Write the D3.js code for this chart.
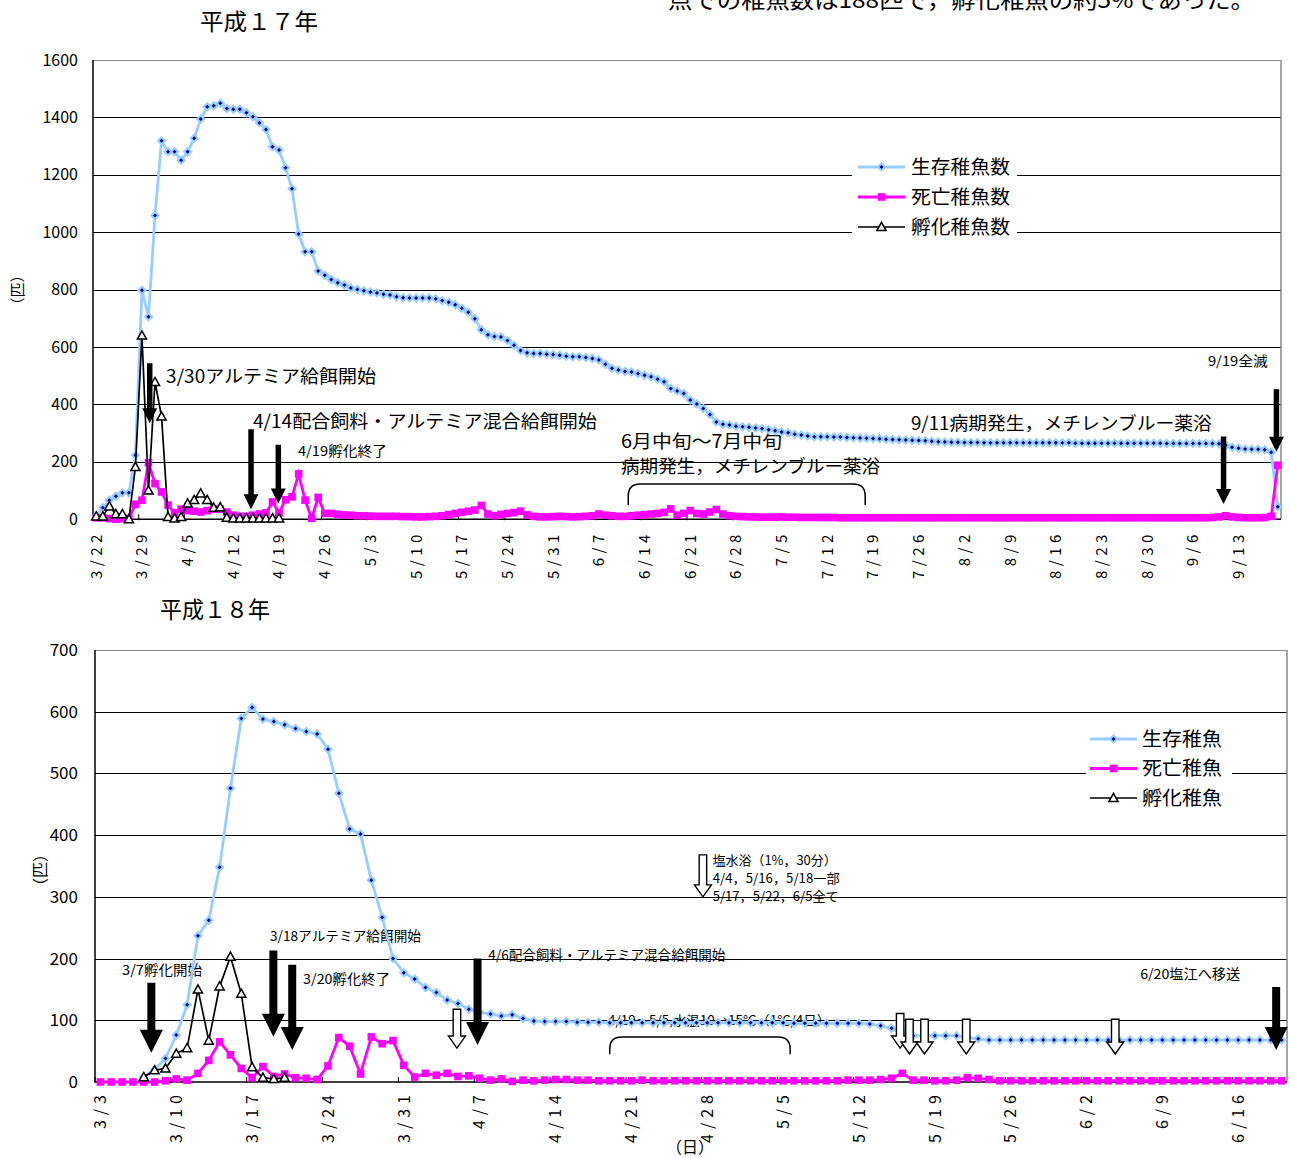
<!DOCTYPE html>
<html><head><meta charset="utf-8">
<script src="https://cdn.jsdelivr.net/npm/d3@7"></script>
<style>
body{margin:0;background:#fff;}
text{font-family:"Noto Sans CJK JP","Liberation Sans",sans-serif;}
</style></head><body>
<svg id="c" width="1290" height="1158"></svg>
<script>
// ---------------- DATA ----------------
const topStart = new Date(2005, 2, 22), topDayCount = 182;
const botStart = new Date(2006, 2, 3), botDayCount = 110;

const topTickLabels = ["3/22","3/29","4/5","4/12","4/19","4/26","5/3","5/10","5/17","5/24","5/31","6/7","6/14","6/21","6/28","7/5","7/12","7/19","7/26","8/2","8/9","8/16","8/23","8/30","9/6","9/13"];
const botTickLabels = ["3/3","3/10","3/17","3/24","3/31","4/7","4/14","4/21","4/28","5/5","5/12","5/19","5/26","6/2","6/9","6/16"];
const topYTicks = [0,200,400,600,800,1000,1200,1400,1600];
const botYTicks = [0,100,200,300,400,500,600,700];

const topSurvive = [
 12,40,66,80,92,92,223,798,705,1058,
 1319,1280,1280,1251,1280,1327,1394,1437,1441,1449,
 1431,1428,1428,1416,1402,1381,1358,1298,1286,1225,
 1151,994,932,932,865,850,835,824,816,806,
 800,796,792,788,784,781,775,772,771,771,
 771,771,768,762,756,747,735,721,698,660,
 643,637,635,623,606,588,580,577,577,575,
 574,571,568,566,566,563,560,555,540,526,
 520,515,513,508,502,496,488,479,455,447,
 438,415,401,386,365,339,331,328,324,322,
 320,318,316,312,308,304,301,296,293,290,
 287,287,287,286,286,285,284,283,282,281,
 280,279,278,277,276,275,274,273,272,270,
 269,268,268,267,267,267,266,266,266,266,
 266,266,266,266,266,266,266,266,266,266,
 265,265,265,265,265,265,265,265,265,265,
 265,265,265,265,264,264,264,264,264,264,
 264,264,263,258,251,247,245,244,244,242,
 233,43];
const topDead = [
 5,5,2,0,2,3,52,66,197,124,
 95,49,22,35,30,28,25,30,35,35,
 25,14,10,10,14,18,22,60,22,68,
 78,158,66,3,76,20,20,17,15,14,
 12,12,11,10,10,10,10,9,9,8,
 8,9,10,12,16,20,24,28,32,48,
 18,12,17,20,23,28,15,10,8,8,
 9,10,9,8,9,10,12,18,14,12,
 10,10,12,14,16,18,20,24,36,14,
 20,30,20,18,25,34,18,12,10,9,
 8,8,7,7,7,8,7,7,6,6,
 6,6,6,6,5,5,5,5,5,5,
 5,5,5,5,5,5,5,5,5,5,
 5,5,5,5,5,5,5,5,5,5,
 5,5,5,5,5,5,5,5,5,5,
 5,5,5,5,5,5,5,5,5,5,
 5,5,5,5,5,5,5,5,5,5,
 5,6,8,12,8,6,5,5,5,6,
 10,188];
const topHatch = [10,10,45,18,18,0,182,640,100,478,358,8,3,8,55,67,90,67,40,42,5,3,3,3,3,3,3,3,3];

const botSurvive = [
 null,null,null,null,8,20,38,76,125,237,
 262,348,476,589,607,588,584,579,573,568,
 564,539,468,410,402,327,267,200,177,167,
 153,145,133,127,118,113,110,107,109,103,
 99,98,98,98,97,97,97,96,96,96,
 96,96,96,96,96,96,96,96,96,96,
 96,96,96,96,95,95,95,95,95,95,
 95,94,91,87,80,75,75,75,75,75,
 72,70,68,68,68,68,68,68,68,68,
 68,68,68,68,68,68,68,68,68,68,
 68,68,68,68,68,68,68,68,68,68];
const botDead = [
 0,0,0,0,0,0,2,5,3,14,
 35,65,44,22,7,25,9,13,7,6,
 4,26,72,58,13,73,62,67,27,8,
 14,11,14,9,10,6,3,5,1,3,
 2,3,4,4,3,3,2,2,2,2,
 3,2,2,2,2,2,2,2,2,2,
 2,2,2,2,2,2,2,2,2,3,
 3,3,4,6,14,3,3,2,2,3,
 7,6,4,2,2,2,2,2,2,2,
 2,2,2,2,2,2,2,2,2,2,
 2,2,2,2,2,2,2,2,2,2];
const botHatch = [null,null,null,null,8,19,22,46,55,150,67,155,203,143,24,7,5,7];

const topLegend = ["生存稚魚数","死亡稚魚数","孵化稚魚数"];
const botLegend = ["生存稚魚","死亡稚魚","孵化稚魚"];

// annotations: i = category index (fractional), v = value
const topNotes = [
 {t:"3/30アルテミア給餌開始", i:10.7, v:496, w:210, fs:18},
 {t:"4/14配合飼料・アルテミア混合給餌開始", i:24.0, v:339, w:344, fs:18},
 {t:"4/19孵化終了", i:30.9, v:238, w:89, fs:13.5},
 {t:"6月中旬～7月中旬", i:80.4, v:269, w:161, fs:18},
 {t:"病期発生，メチレンブルー薬浴", i:80.4, v:182, w:259, fs:18},
 {t:"9/11病期発生，メチレンブルー薬浴", i:124.8, v:332, w:301, fs:18},
 {t:"9/19全滅", i:170.3, v:551, w:60, fs:13.5}
];
const topArrows = [
 {i:8.19, v1:543, v2:334}, {i:23.71, v1:313, v2:34.5}, {i:27.89, v1:259, v2:55},
 {i:172.7, v1:288, v2:53}, {i:180.8, v1:453, v2:235}
];
const topBraces = [{i1:81.5, i2:117.8, v1:123, v2:49.6}];

const botNotes = [
 {t:"3/7孵化開始", i:2.0, v:181.5, w:80, fs:13.5},
 {t:"3/18アルテミア給餌開始", i:15.65, v:236.6, w:151, fs:13.5},
 {t:"3/20孵化終了", i:18.7, v:166.9, w:87, fs:13.5},
 {t:"4/6配合飼料・アルテミア混合給餌開始", i:35.8, v:205.8, w:237, fs:13.5},
 {t:"塩水浴（1%，30分）", i:56.5, v:359.7, w:124, fs:13},
 {t:"4/4，5/16，5/18一部", i:56.5, v:330.5, w:127, fs:13},
 {t:"5/17，5/22，6/5全て", i:56.5, v:301.4, w:126, fs:13},
 {t:"4/19～5/5,水温10→15℃（1℃/4日）", i:46.85, v:100.5, w:222, fs:13},
 {t:"6/20塩江へ移送", i:95.95, v:175, w:100, fs:13.5}
];
const botArrows = [
 {i:4.7, v1:161, v2:47.5}, {i:15.96, v1:213, v2:73.4}, {i:17.7, v1:190, v2:52},
 {i:34.8, v1:200, v2:60}, {i:108.5, v1:154, v2:52}
];
const botHollow = [
 {i:32.9, v1:118, v2:55}, {i:55.6, v1:368, v2:300}, {i:73.8, v1:111, v2:55},
 {i:74.66, v1:101.6, v2:45.4}, {i:76.05, v1:101.6, v2:45.4}, {i:79.9, v1:101.6, v2:45.4},
 {i:93.65, v1:101.6, v2:45.4}
];
const botBraces = [{i1:47.0, i2:63.65, v1:73, v2:45}];

// ---------------- DRAW ----------------
const fmt = d => (d.getMonth()+1) + "/" + d.getDate();
const topCats = d3.range(topDayCount).map(i => fmt(d3.timeDay.offset(topStart, i)));
const botCats = d3.range(botDayCount).map(i => fmt(d3.timeDay.offset(botStart, i)));

const svg = d3.select("#c");
svg.append("rect").attr("width",1290).attr("height",1158).attr("fill","#fff");

const BLUE = "#99CCFF", NAVY = "#000080", PINK = "#FF00FF";
const NUMFONT = "'Liberation Sans', Arial, sans-serif";
const DOUT = "M0,-5L5,0L0,5L-5,0Z", DIN = "M0,-2L2,0L0,2L-2,0Z", TRI = "M0,-4.6L4.6,3.6L-4.6,3.6Z";

function drawChart(o) {
  const g = svg.append("g");
  const x = d3.scaleBand().domain(o.cats).range([o.x0, o.x1]);
  const bw = x.bandwidth();
  const y = d3.scaleLinear().domain([0, o.yMax]).range([o.y0, o.yT]);
  const xc = c => x(c) + bw / 2;
  const xi = i => o.x0 + (i + 0.5) * bw;

  // grid + y labels
  const ya = g.append("g").attr("transform", `translate(${o.x0},0)`)
    .call(d3.axisLeft(y).tickValues(o.yTicks).tickSize(-(o.x1 - o.x0)).tickPadding(o.yPad).tickFormat(d3.format("d")));
  ya.attr("font-size", o.yFs).attr("font-family", NUMFONT);
  ya.select(".domain").remove();
  ya.selectAll(".tick line").attr("stroke", d => d === o.yMax ? "#888" : "#000")
    .attr("stroke-width", 1).attr("shape-rendering", "crispEdges")
    .attr("opacity", d => d === 0 ? 0 : 1);
  ya.selectAll(".tick text").attr("fill", "#000");
  g.append("line").attr("x1", o.x1).attr("x2", o.x1).attr("y1", o.yT).attr("y2", o.y0)
    .attr("stroke", "#888").attr("stroke-width", 1.5);
  g.append("line").attr("x1", o.x0).attr("x2", o.x0).attr("y1", o.yT).attr("y2", o.y0)
    .attr("stroke", "#000").attr("stroke-width", 1.5);

  // x axis
  const xa = g.append("g").attr("transform", `translate(0,${o.y0})`)
    .call(d3.axisBottom(x).tickValues(o.tickLabels).tickSize(0).tickPadding(0));
  xa.attr("font-size", o.xFs).attr("font-family", NUMFONT);
  xa.select(".domain").remove();
  xa.selectAll(".tick text").attr("fill", "#000")
    .attr("transform", "rotate(-90)").attr("text-anchor", "end")
    .attr("x", -o.xPad).attr("y", 0).attr("dy", "0.36em")
    .style("letter-spacing", o.xLs + "px");
  g.append("line").attr("x1", o.x0).attr("x2", o.x1).attr("y1", o.y0).attr("y2", o.y0)
    .attr("stroke", "#000").attr("stroke-width", 1.5);
  g.append("g").selectAll("line").data(o.tickLabels).join("line")
    .attr("x1", c => x(c)).attr("x2", c => x(c))
    .attr("y1", o.y0 - 5).attr("y2", o.y0 + 1)
    .attr("stroke", "#000").attr("stroke-width", 1);

  // notes (behind series)
  g.append("g").selectAll("text").data(o.notes).join("text")
    .attr("x", d => xi(d.i)).attr("y", d => y(d.v)).attr("dy", "0.35em")
    .attr("font-size", d => d.fs).attr("textLength", d => d.w).attr("lengthAdjust", "spacingAndGlyphs")
    .attr("fill", "#000").text(d => d.t);

  // braces
  o.braces.forEach(b => {
    const x1 = xi(b.i1), x2 = xi(b.i2), yt = y(b.v1), yb = y(b.v2), r = Math.min(12, (yb - yt) * 0.7);
    g.append("path").attr("d", `M${x1},${yb} L${x1},${yt + r} Q${x1},${yt} ${x1 + r},${yt} L${x2 - r},${yt} Q${x2},${yt} ${x2},${yt + r} L${x2},${yb}`)
      .attr("fill", "none").attr("stroke", "#000").attr("stroke-width", 1.5);
  });

  // series
  const pts = arr => arr.map((v, i) => ({c: o.cats[i], v})).filter(d => d.v != null);
  const line = d3.line().x(d => xc(d.c)).y(d => y(d.v));
  const s1 = pts(o.survive), s2 = pts(o.dead), s3 = pts(o.hatch);
  g.append("path").attr("d", line(s1)).attr("fill", "none").attr("stroke", BLUE).attr("stroke-width", 2.8);
  const dg = g.append("g");
  dg.selectAll("path.o").data(s1).join("path").attr("class", "o")
    .attr("d", DOUT).attr("transform", d => `translate(${xc(d.c)},${y(d.v)})`).attr("fill", BLUE);
  dg.selectAll("path.i").data(s1).join("path").attr("class", "i")
    .attr("d", DIN).attr("transform", d => `translate(${xc(d.c)},${y(d.v)})`).attr("fill", NAVY);

  g.append("path").attr("d", line(s2)).attr("fill", "none").attr("stroke", PINK).attr("stroke-width", 2.8);
  g.append("g").selectAll("rect").data(s2).join("rect")
    .attr("x", d => xc(d.c) - 3.8).attr("y", d => y(d.v) - 3.8).attr("width", 7.6).attr("height", 7.6).attr("fill", PINK);

  g.append("path").attr("d", line(s3)).attr("fill", "none").attr("stroke", "#000").attr("stroke-width", 1.7);
  g.append("g").selectAll("path").data(s3).join("path")
    .attr("d", TRI).attr("transform", d => `translate(${xc(d.c)},${y(d.v)})`)
    .attr("fill", "#fff").attr("stroke", "#000").attr("stroke-width", 1.5);

  // arrows
  const arrowPath = (xm, y1, y2, sw, hw, hl) =>
    `M${xm - sw / 2},${y1} L${xm + sw / 2},${y1} L${xm + sw / 2},${y2 - hl} L${xm + hw / 2},${y2 - hl} L${xm},${y2} L${xm - hw / 2},${y2 - hl} L${xm - sw / 2},${y2 - hl} Z`;
  o.arrows.forEach(a => g.append("path").attr("d", arrowPath(xi(a.i), y(a.v1), y(a.v2), o.aw[0], o.aw[1], o.aw[2])).attr("fill", "#000"));
  (o.hollow || []).forEach(a => g.append("path").attr("d", arrowPath(xi(a.i), y(a.v1), y(a.v2), 7.5, 17, 12))
    .attr("fill", "#fff").attr("stroke", "#000").attr("stroke-width", 1.4));

  // legend
  const L = o.legend;
  g.append("rect").attr("x", L.bx).attr("y", L.by).attr("width", L.bw).attr("height", L.bh).attr("fill", "#fff");
  const colors = [BLUE, PINK, "#000"];
  o.legendNames.forEach((name, k) => {
    const yy = L.y + k * L.dy;
    g.append("line").attr("x1", L.x).attr("x2", L.x + L.len).attr("y1", yy).attr("y2", yy)
      .attr("stroke", colors[k]).attr("stroke-width", k === 2 ? 1.7 : 2.8);
    const mx = L.x + L.len / 2;
    if (k === 0) {
      g.append("path").attr("d", DOUT).attr("transform", `translate(${mx},${yy})`).attr("fill", BLUE);
      g.append("path").attr("d", DIN).attr("transform", `translate(${mx},${yy})`).attr("fill", NAVY);
    } else if (k === 1) {
      g.append("rect").attr("x", mx - 3.8).attr("y", yy - 3.8).attr("width", 7.6).attr("height", 7.6).attr("fill", PINK);
    } else {
      g.append("path").attr("d", TRI).attr("transform", `translate(${mx},${yy})`)
        .attr("fill", "#fff").attr("stroke", "#000").attr("stroke-width", 1.5);
    }
    g.append("text").attr("x", L.tx).attr("y", yy).attr("dy", "0.36em").attr("font-size", L.fs)
      .attr("textLength", L.tw).attr("lengthAdjust", "spacingAndGlyphs").text(name);
  });
  return {x, y};
}

drawChart({
  cats: topCats, x0: 93, x1: 1281, y0: 519.2, yT: 60, yMax: 1600, yTicks: topYTicks, yPad: 15, yFs: 16,
  tickLabels: topTickLabels, xFs: 15, xPad: 11, xLs: 4.5,
  survive: topSurvive, dead: topDead, hatch: topHatch,
  notes: topNotes, braces: topBraces, arrows: topArrows, aw: [5.5, 15, 15],
  legendNames: topLegend,
  legend: {bx: 852, by: 153, bw: 165, bh: 88, x: 858, len: 47, y: 167, dy: 30, tx: 911, tw: 99, fs: 19}
});
drawChart({
  cats: botCats, x0: 95, x1: 1287, y0: 1082, yT: 650, yMax: 700, yTicks: botYTicks, yPad: 17, yFs: 17,
  tickLabels: botTickLabels, xFs: 16, xPad: 8, xLs: 5,
  survive: botSurvive, dead: botDead, hatch: botHatch,
  notes: botNotes, braces: botBraces, arrows: botArrows, aw: [8, 23, 23], hollow: botHollow,
  legendNames: botLegend,
  legend: {bx: 1086, by: 724, bw: 146, bh: 89, x: 1090, len: 47, y: 739, dy: 29.5, tx: 1142, tw: 80, fs: 19}
});

// titles & axis titles
svg.append("text").attr("x", 200).attr("y", 22).attr("dy", "0.36em").attr("font-size", 23)
  .attr("textLength", 118).attr("lengthAdjust", "spacingAndGlyphs").text("平成１７年");
svg.append("text").attr("x", 160).attr("y", 610).attr("dy", "0.36em").attr("font-size", 23)
  .attr("textLength", 110).attr("lengthAdjust", "spacingAndGlyphs").text("平成１８年");
// sentence continuing from above the chart (cut by the top edge, as in the source page)
svg.append("text").attr("x", 668).attr("y", 8).attr("font-size", 22)
  .attr("textLength", 587).attr("lengthAdjust", "spacingAndGlyphs").text("点での稚魚数は188匹で，孵化稚魚の約5%であった。");
svg.append("text").attr("transform", "translate(18,290) rotate(-90)").attr("text-anchor", "middle").attr("dy", "0.36em")
  .attr("font-size", 15).text("（匹）");
svg.append("text").attr("transform", "translate(40,870) rotate(-90)").attr("text-anchor", "middle").attr("dy", "0.36em")
  .attr("font-size", 16).text("（匹）");
svg.append("text").attr("x", 690).attr("y", 1147).attr("text-anchor", "middle").attr("dy", "0.36em")
  .attr("font-size", 16).text("（日）");
</script>
</body></html>
